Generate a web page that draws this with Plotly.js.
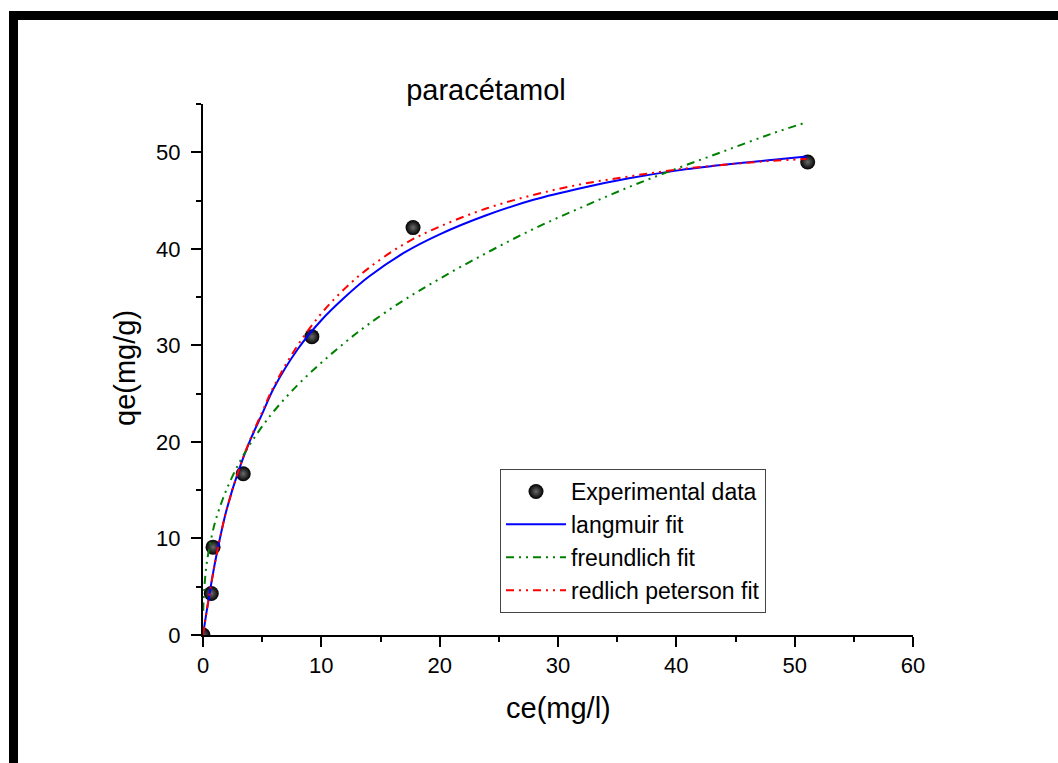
<!DOCTYPE html>
<html>
<head>
<meta charset="utf-8">
<script src="https://cdn.plot.ly/plotly-3.0.1.min.js"></script>
<style>
html,body{margin:0;padding:0;background:#fff;}
#chart{width:1058px;height:763px;}
</style>
</head>
<body>
<div id="chart"></div>
<script>
// Experimental data
const expCe = [0, 0.7, 0.85, 3.4, 9.2, 17.75, 51.1];
const expQe = [0, 4.3, 9.1, 16.7, 30.9, 42.2, 49.0];

// Fitted curves
const fitCe = [0, 0.25, 0.5, 1, 1.5, 2, 3, 4, 5, 6, 8, 10, 12, 14, 17, 20, 24, 28, 32, 36, 40, 44, 48, 51];
const langmuirQe = [0, 2.0, 3.9, 7.4, 10.4, 13.0, 17.0, 20.2, 22.9, 25.6, 29.6, 32.6, 35.0, 37.1, 39.6, 41.5, 43.5, 45.1, 46.3, 47.3, 48.1, 48.7, 49.2, 49.55];
const redlichQe = [0, 2.0, 3.9, 7.4, 10.4, 13.0, 17.0, 20.3, 23.1, 25.8, 30.0, 33.3, 35.9, 38.0, 40.5, 42.3, 44.2, 45.6, 46.7, 47.5, 48.2, 48.7, 49.1, 49.3];
const freundCe = [0.02, 0.05, 0.25, 0.5, 1, 1.5, 2, 3, 4, 5, 6, 8, 10, 12, 14, 17, 20, 24, 28, 32, 36, 40, 44, 48, 51];
const freundQe = [2.5, 3.6, 6.8, 8.8, 11.6, 13.5, 15.1, 17.7, 19.8, 21.6, 23.2, 25.9, 28.2, 30.3, 32.2, 34.7, 36.9, 39.6, 42.1, 44.3, 46.4, 48.3, 50.1, 51.9, 53.1];

const titleText = "paracétamol";
const xTitle = "ce(mg/l)";
const yTitle = "qe(mg/g)";
const legendNames = ["Experimental data", "langmuir fit", "freundlich fit", "redlich peterson fit"];

const FONT = "Arial, 'Liberation Sans', sans-serif";
const dashPat = "8px,5px,2px,5px,2px,5px";

const traces = [
  {x: expCe, y: expQe, mode: "markers", type: "scatter", name: legendNames[0],
   marker: {size: 15, color: "#000", gradient: {type: "radial", color: "#6a6a6a"}, line: {width: 0}}},
  {x: fitCe, y: langmuirQe, mode: "lines", type: "scatter", name: legendNames[1],
   line: {color: "#0000ff", width: 2, shape: "spline"}},
  {x: freundCe, y: freundQe, mode: "lines", type: "scatter", name: legendNames[2],
   line: {color: "#008000", width: 2, dash: dashPat, shape: "spline"}},
  {x: fitCe, y: redlichQe, mode: "lines", type: "scatter", name: legendNames[3],
   line: {color: "#ff0000", width: 2, dash: dashPat, shape: "spline"}}
];

// paper coordinate helpers for the outer black frame (plot area: x 203..913, y 104..635)
function px2x(p){return (p-203)/710;}
function py2y(p){return (635-p)/531;}

const layout = {
  width: 1058, height: 763,
  margin: {l: 203, r: 145, t: 104, b: 128},
  paper_bgcolor: "#fff", plot_bgcolor: "#fff",
  font: {family: FONT, color: "#000"},
  showlegend: true,
  title: {text: titleText, font: {size: 29, family: FONT, color: "#000"},
          x: 486/1058, xanchor: "center", y: 1 - 90/763, yanchor: "middle", xref: "container", yref: "container"},
  xaxis: {
    range: [0, 60], showgrid: false, zeroline: false,
    showline: true, linecolor: "#000", linewidth: 2,
    ticks: "outside", ticklen: 10, tickwidth: 2, tickcolor: "#000",
    tick0: 0, dtick: 10, ticklabelstandoff: 0,
    tickfont: {size: 22, family: FONT, color: "#000"},
    minor: {ticks: "outside", ticklen: 5, tickwidth: 2, tickcolor: "#000", dtick: 5, showgrid: false},
    title: {text: ""}
  },
  yaxis: {
    range: [0, 55], showgrid: false, zeroline: false,
    showline: true, linecolor: "#000", linewidth: 2,
    ticks: "outside", ticklen: 10, tickwidth: 2, tickcolor: "#000",
    tick0: 0, dtick: 10, ticklabelstandoff: 6,
    tickfont: {size: 22, family: FONT, color: "#000"},
    minor: {ticks: "outside", ticklen: 5, tickwidth: 2, tickcolor: "#000", dtick: 5, showgrid: false},
    title: {text: ""}
  },
  legend: {
    x: px2x(500), y: py2y(469), xanchor: "left", yanchor: "top",
    bgcolor: "#fff", bordercolor: "#444", borderwidth: 1,
    font: {size: 23, family: FONT, color: "#000"},
    tracegroupgap: 0, itemwidth: 60
  },
  annotations: [
    {text: xTitle, xref: "paper", yref: "paper", x: px2x(558), y: py2y(708), xanchor: "center", yanchor: "middle",
     showarrow: false, font: {size: 29, family: FONT, color: "#000"}},
    {text: yTitle, xref: "paper", yref: "paper", x: px2x(125), y: py2y(368), xanchor: "center", yanchor: "middle",
     textangle: -90, showarrow: false, font: {size: 29, family: FONT, color: "#000"}}
  ],
  shapes: [
    {type: "rect", xref: "paper", yref: "paper", x0: px2x(9), x1: px2x(18), y0: py2y(763), y1: py2y(11),
     fillcolor: "#000", line: {width: 0}, layer: "above"},
    {type: "rect", xref: "paper", yref: "paper", x0: px2x(9), x1: px2x(1058), y0: py2y(20), y1: py2y(11),
     fillcolor: "#000", line: {width: 0}, layer: "above"}
  ]
};

Plotly.newPlot("chart", traces, layout, {displayModeBar: false, staticPlot: true});
</script>
</body>
</html>
